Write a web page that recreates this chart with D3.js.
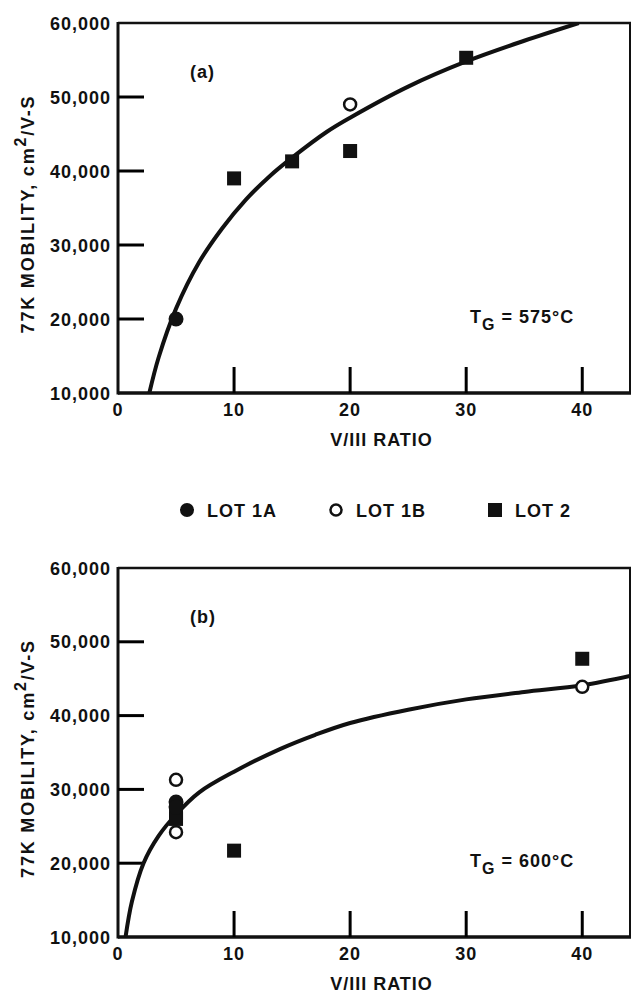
<!DOCTYPE html>
<html>
<head>
<meta charset="utf-8">
<script src="https://cdn.jsdelivr.net/npm/d3@7"></script>
<style>
  body { margin: 0; background: #fff; }
  text { font-family: "Liberation Sans", Arial, sans-serif; font-weight: bold; fill: #111; letter-spacing: 1px; }
</style>
</head>
<body>
<svg></svg>
<script>
const width = 632;
const height = 994;

// axis values
const xTicks = [0, 10, 20, 30, 40];
const yTicks = [10000, 20000, 30000, 40000, 50000, 60000];
const lotNames = ["LOT 1A", "LOT 1B", "LOT 2"];

// panel (a), T_G = 575 C
const aLot1A = [[5, 20000]];
const aLot1B = [[20, 49000]];
const aLot2 = [[10, 39000], [15, 41300], [20, 42700], [30, 55300]];
const aCurve = [[2.7, 10000], [3.5, 14800], [5, 21400], [7, 27700], [9, 32300], [11, 36100],
  [13, 39200], [15, 41800], [18, 45300], [20, 47200], [25, 51400], [30, 54800], [35, 57600], [39.7, 60000]];

// panel (b), T_G = 600 C
const bLot1A = [[5, 28300], [5, 27600]];
const bLot1B = [[5, 31300], [5, 24200], [40, 43900]];
const bLot2 = [[5, 26800], [5, 26000], [10, 21700], [40, 47700]];
const bCurve = [[0.65, 10000], [1.2, 14800], [2.2, 20000], [3.5, 23700], [5, 26600], [7, 29600],
  [10, 32400], [14, 35500], [17, 37400], [20, 39000], [25, 40800], [30, 42200], [35, 43200], [40, 44100], [44.2, 45400]];

const svg = d3.select("svg")
  .attr("width", width)
  .attr("height", height)
  .style("background", "#fff");

function drawPanel(id, top, bottom, tag, tg, curve, lot1A, lot1B, lot2) {
  const left = 118, right = 631;
  const x = d3.scaleLinear().domain([0, 44.2]).range([left, right]);
  const y = d3.scaleLinear().domain([10000, 60000]).range([bottom, top]);
  const g = svg.append("g");

  g.append("clipPath").attr("id", "clip-" + id)
    .append("rect").attr("x", left).attr("y", top).attr("width", right - left).attr("height", bottom - top);

  // frame
  g.append("line").attr("x1", left).attr("x2", right).attr("y1", top).attr("y2", top)
    .attr("stroke", "#111").attr("stroke-width", 2.5);
  g.append("line").attr("x1", right - 1).attr("x2", right - 1).attr("y1", top).attr("y2", bottom)
    .attr("stroke", "#111").attr("stroke-width", 2);
  g.append("line").attr("x1", left).attr("x2", left).attr("y1", top - 1).attr("y2", bottom + 1.5)
    .attr("stroke", "#111").attr("stroke-width", 3);
  g.append("line").attr("x1", left).attr("x2", right).attr("y1", bottom).attr("y2", bottom)
    .attr("stroke", "#111").attr("stroke-width", 3.5);

  // inward ticks (skip the corners)
  xTicks.filter(d => d > 0).forEach(d => {
    g.append("line")
      .attr("x1", x(d)).attr("x2", x(d))
      .attr("y1", bottom).attr("y2", bottom - 26)
      .attr("stroke", "#000").attr("stroke-width", 3);
  });
  yTicks.slice(1, -1).forEach(d => {
    g.append("line")
      .attr("x1", left).attr("x2", left + 26)
      .attr("y1", y(d)).attr("y2", y(d))
      .attr("stroke", "#000").attr("stroke-width", 3);
  });

  // tick labels
  g.selectAll(null).data(xTicks).enter().append("text")
    .attr("x", d => x(d)).attr("y", bottom + 23)
    .attr("text-anchor", "middle").style("font-size", "18px")
    .text(d => d);
  g.selectAll(null).data(yTicks).enter().append("text")
    .attr("x", 111).attr("y", d => y(d) + 6.5)
    .attr("text-anchor", "end").style("font-size", "18px")
    .text(d3.format(","));

  // fitted curve
  const line = d3.line().x(d => x(d[0])).y(d => y(d[1])).curve(d3.curveCatmullRom);
  g.append("path").datum(curve)
    .attr("clip-path", `url(#clip-${id})`)
    .attr("d", line)
    .attr("fill", "none")
    .attr("stroke", "#111")
    .attr("stroke-width", 4);

  // markers
  g.selectAll(null).data(lot2).enter().append("rect")
    .attr("x", d => x(d[0]) - 7).attr("y", d => y(d[1]) - 7)
    .attr("width", 14).attr("height", 14).attr("fill", "#111");
  g.selectAll(null).data(lot1A).enter().append("circle")
    .attr("cx", d => x(d[0])).attr("cy", d => y(d[1])).attr("r", 7.5).attr("fill", "#111");
  g.selectAll(null).data(lot1B).enter().append("circle")
    .attr("cx", d => x(d[0])).attr("cy", d => y(d[1])).attr("r", 6)
    .attr("fill", "#fff").attr("stroke", "#111").attr("stroke-width", 2.5);

  // labels
  g.append("text").attr("x", 190).attr("y", top + 55).style("font-size", "18px").text(tag);

  const t = g.append("text").attr("x", 470).attr("y", bottom - 70).style("font-size", "18px");
  t.append("tspan").text("T");
  t.append("tspan").attr("dy", 7).style("font-size", "16px").text("G");
  t.append("tspan").attr("dy", -7).text(" = " + tg);

  g.append("text").attr("x", (left + right) / 2 + 7).attr("y", bottom + 53)
    .attr("text-anchor", "middle").style("font-size", "18px").text("V/III RATIO");

  const yl = g.append("text")
    .attr("transform", `translate(34,${(top + bottom) / 2 + 6}) rotate(-90)`)
    .attr("text-anchor", "middle").style("font-size", "18px").style("letter-spacing", "1.8px");
  yl.append("tspan").text("77K MOBILITY, cm");
  yl.append("tspan").attr("dy", -8).style("font-size", "16px").text("2");
  yl.append("tspan").attr("dy", 8).text("/V-S");
}

drawPanel("a", 23, 393, "(a)", "575°C", aCurve, aLot1A, aLot1B, aLot2);
drawPanel("b", 568, 937, "(b)", "600°C", bCurve, bLot1A, bLot1B, bLot2);

// legend between the panels
const legendX = [187, 336, 495];
const legend = svg.append("g");
lotNames.forEach((name, i) => {
  const cx = legendX[i], cy = 510;
  if (i === 0) legend.append("circle").attr("cx", cx).attr("cy", cy).attr("r", 7).attr("fill", "#111");
  if (i === 1) legend.append("circle").attr("cx", cx).attr("cy", cy).attr("r", 5.5)
    .attr("fill", "#fff").attr("stroke", "#111").attr("stroke-width", 2.5);
  if (i === 2) legend.append("rect").attr("x", cx - 7).attr("y", cy - 7).attr("width", 14).attr("height", 14).attr("fill", "#111");
  legend.append("text").attr("x", cx + 20).attr("y", cy + 7).style("font-size", "18px").text(name);
});
</script>
</body>
</html>
